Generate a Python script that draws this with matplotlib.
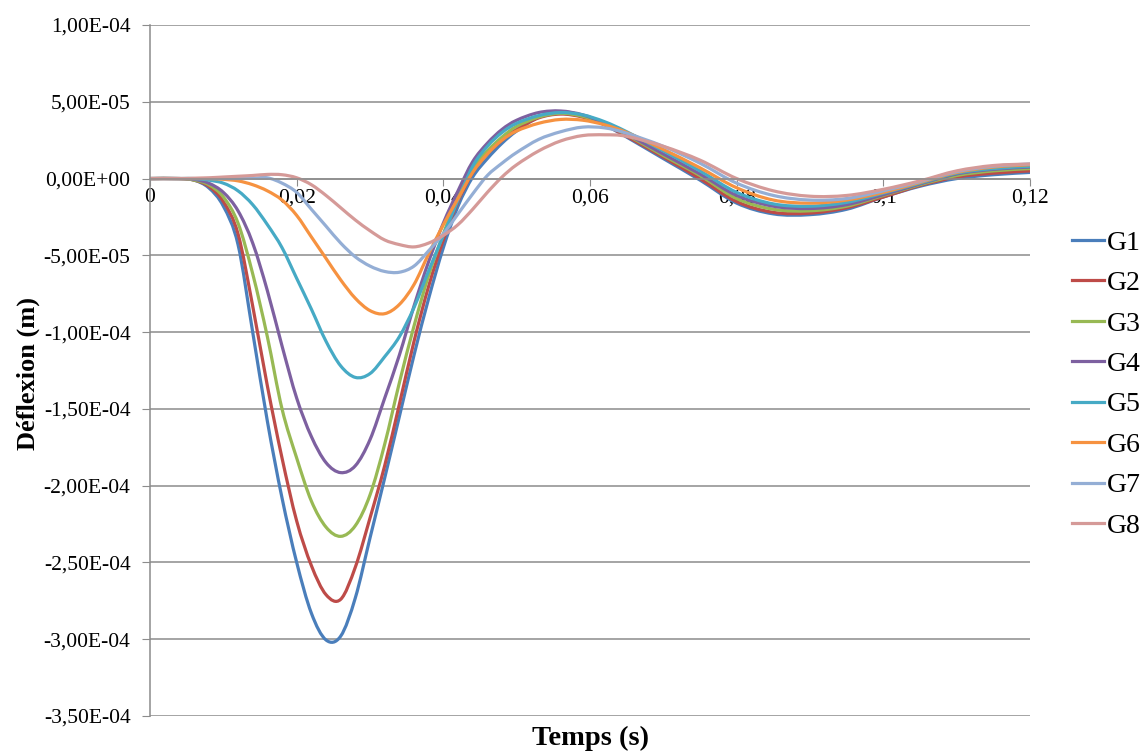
import numpy as np
import matplotlib
matplotlib.use('Agg')
import matplotlib.pyplot as plt
from matplotlib.path import Path
from matplotlib.patches import PathPatch
from matplotlib.ticker import FuncFormatter

# temps (s)
t = [0, 0.004, 0.006, 0.008, 0.010, 0.012, 0.014, 0.016, 0.018, 0.020,
     0.022, 0.024, 0.026, 0.028, 0.030, 0.032, 0.034, 0.036, 0.038, 0.040,
     0.042, 0.044, 0.046, 0.048, 0.050, 0.053, 0.056, 0.059, 0.062, 0.065,
     0.070, 0.075, 0.080, 0.085, 0.090, 0.095, 0.100, 0.105, 0.110, 0.115, 0.120]

# deflexion in 1e-5 m
g1 = [0, 0, -0.1, -0.6, -1.8, -4.3, -10.0, -15.8, -20.8, -25.0,
      -28.3, -30.05, -29.8, -27.3, -23.4, -19.5, -15.5, -11.5, -7.8, -4.5,
      -1.8, 0.1, 1.3, 2.3, 3.1, 4.0, 4.35, 4.1, 3.5, 2.7,
      1.3, -0.1, -1.6, -2.3, -2.35, -2.0, -1.2, -0.5, 0.0, 0.25, 0.4]
g2 = [0, 0, -0.1, -0.5, -1.5, -3.6, -8.3, -13.5, -18.2, -22.3,
      -25.2, -27.1, -27.4, -25.3, -22.1, -18.7, -14.7, -10.6, -7.0, -4.0,
      -1.5, 0.4, 1.6, 2.5, 3.2, 3.95, 4.2, 4.0, 3.5, 2.75,
      1.4, 0.0, -1.5, -2.2, -2.25, -1.9, -1.2, -0.45, 0.1, 0.35, 0.5]
g3 = [0, 0, -0.1, -0.4, -1.2, -2.9, -6.2, -10.3, -15.0, -18.2,
      -21.0, -22.7, -23.3, -22.6, -20.6, -17.3, -13.3, -9.6, -6.3, -3.6,
      -1.2, 0.7, 1.8, 2.7, 3.4, 4.0, 4.25, 4.05, 3.55, 2.85,
      1.5, 0.2, -1.3, -2.0, -2.1, -1.8, -1.1, -0.4, 0.2, 0.5, 0.65]
g4 = [0, 0, -0.05, -0.3, -0.9, -2.1, -4.2, -7.3, -10.9, -14.3,
      -16.8, -18.5, -19.15, -18.7, -17.0, -14.3, -11.5, -8.3, -5.4, -2.9,
      -0.8, 1.1, 2.3, 3.2, 3.8, 4.3, 4.4, 4.15, 3.6, 2.9,
      1.6, 0.3, -1.1, -1.8, -1.95, -1.7, -1.05, -0.35, 0.3, 0.6, 0.75]
g5 = [0, 0, 0, -0.1, -0.3, -0.8, -1.7, -3.0, -4.5, -6.5,
      -8.5, -10.6, -12.2, -12.95, -12.7, -11.6, -10.3, -8.4, -6.0, -3.7,
      -1.4, 0.8, 2.1, 3.0, 3.6, 4.1, 4.3, 4.15, 3.7, 3.05,
      1.8, 0.5, -0.9, -1.65, -1.8, -1.55, -0.95, -0.3, 0.35, 0.65, 0.8]
g6 = [0, 0, 0, 0, -0.05, -0.15, -0.4, -0.8, -1.4, -2.4,
      -3.8, -5.2, -6.6, -7.8, -8.6, -8.8, -8.2, -6.9, -4.9, -3.0,
      -1.3, 0.4, 1.6, 2.5, 3.1, 3.6, 3.85, 3.8, 3.5, 3.0,
      1.9, 0.7, -0.6, -1.4, -1.6, -1.4, -0.9, -0.25, 0.4, 0.75, 0.9]
g7 = [0, 0, 0, 0, 0, 0, 0.02, 0.05, -0.3, -0.9,
      -2.0, -3.1, -4.2, -5.1, -5.7, -6.05, -6.1, -5.7, -4.7, -3.6,
      -2.3, -1.0, 0.2, 1.0, 1.7, 2.55, 3.05, 3.35, 3.3, 2.95,
      2.1, 1.0, -0.3, -1.1, -1.4, -1.3, -0.8, -0.2, 0.45, 0.8, 0.95]
g8 = [0, 0, 0.02, 0.05, 0.1, 0.15, 0.2, 0.27, 0.25, 0.05,
      -0.4, -1.1, -1.9, -2.7, -3.4, -4.0, -4.3, -4.45, -4.2, -3.7,
      -3.0, -2.0, -0.9, 0.1, 0.9, 1.8, 2.45, 2.8, 2.85, 2.75,
      2.1, 1.2, 0.0, -0.8, -1.15, -1.1, -0.7, -0.15, 0.5, 0.85, 0.95]

series = [g1, g2, g3, g4, g5, g6, g7, g8]
labels = ['G1', 'G2', 'G3', 'G4', 'G5', 'G6', 'G7', 'G8']
colors = ['#4A7EBB', '#BE4B48', '#98B954', '#7D60A0',
          '#46AAC5', '#F69240', '#94AED5', '#D59A98']


def smooth_path(x, y):
    # Excel-style smoothed line: cubic Bezier segments through the points
    p = np.column_stack([x, y])
    n = len(p)
    verts = [p[0]]
    codes = [Path.MOVETO]
    for i in range(n - 1):
        p0 = p[i - 1] if i > 0 else p[i]
        p1, p2 = p[i], p[i + 1]
        p3 = p[i + 2] if i + 2 < n else p[i + 1]
        verts += [p1 + (p2 - p0) / 6, p2 - (p3 - p1) / 6, p2]
        codes += [Path.CURVE4] * 3
    return Path(verts, codes)


plt.rcParams['font.family'] = 'Liberation Serif'

fig = plt.figure(figsize=(11.47, 7.51), dpi=100)
ax = fig.add_axes([0.1308, 0.0466, 0.898 - 0.1308, 0.9667 - 0.0466])

for y, lab, c in zip(series, labels, colors):
    ax.add_patch(PathPatch(smooth_path(t, np.array(y) * 1e-5), fill=False,
                           edgecolor=c, lw=2.3, capstyle='round', joinstyle='round'))
    ax.plot([], [], color=c, lw=2.3, label=lab)

ax.set_xlim(0, 0.12)
ax.set_ylim(-3.5e-4, 1e-4)
ax.set_xticks(np.arange(0, 0.1201, 0.02))
ax.set_yticks(np.arange(-3.5e-4, 1.01e-4, 5e-5))
ax.xaxis.set_major_formatter(FuncFormatter(lambda v, p: ('%g' % round(v, 3)).replace('.', ',')))
ax.yaxis.set_major_formatter(FuncFormatter(lambda v, p: ('%.2E' % (0 if abs(v) < 1e-12 else v)).replace('.', ',')))

ax.grid(axis='y', color='#8C8C8C', lw=1.1)
ax.set_axisbelow(True)
for s in ['top', 'right']:
    ax.spines[s].set_visible(False)
ax.spines['bottom'].set_position(('data', 0))
for s in ['bottom', 'left']:
    ax.spines[s].set_color('#8C8C8C')
    ax.spines[s].set_linewidth(1.1)
ax.tick_params(axis='x', direction='out', length=5, color='#8C8C8C', labelsize=15.5, pad=2)
ax.tick_params(axis='y', direction='out', length=6, color='#8C8C8C', labelsize=15.5, pad=8)

fig.text(28 / 1147, 1 - 374 / 751, 'Déflexion (m)', fontsize=19, fontweight='bold',
         rotation=90, ha='center', va='center')
fig.text(0.5145, 0.017, 'Temps (s)', fontsize=20.5, fontweight='bold', ha='center', va='center')

fig.legend(loc='center left', bbox_to_anchor=(0.9346, 0.488), frameon=False,
           borderaxespad=0, borderpad=0,
           fontsize=20, handlelength=1.15, handletextpad=0.12, labelspacing=0.54)

fig.savefig('out.png', dpi=100)
